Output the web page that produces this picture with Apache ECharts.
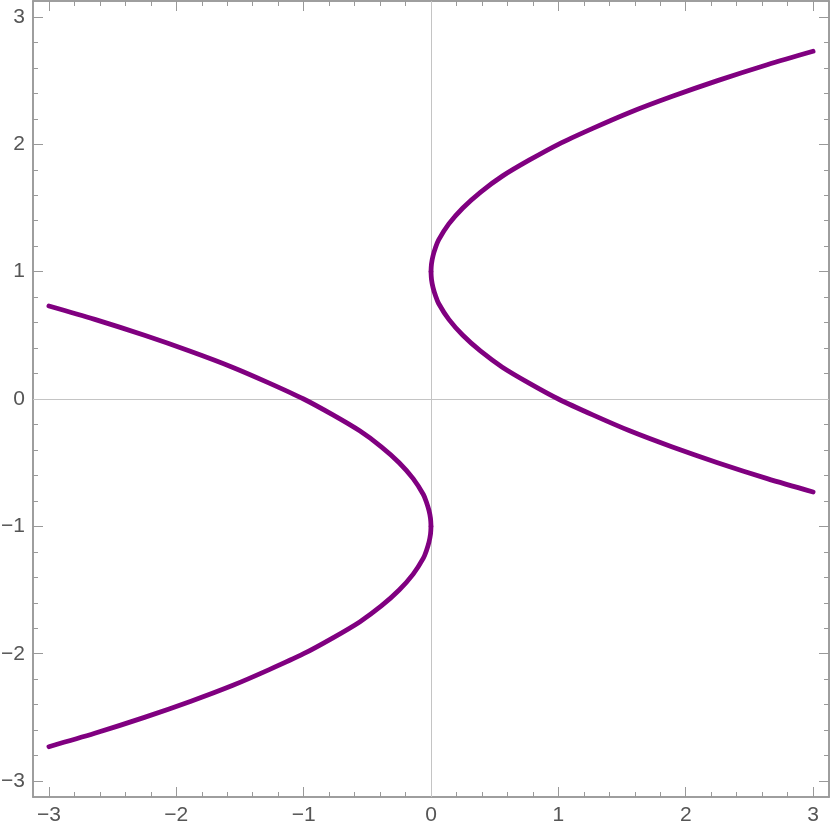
<!DOCTYPE html>
<html>
<head>
<meta charset="utf-8">
<script src="https://cdn.jsdelivr.net/npm/echarts@6/dist/echarts.min.js"></script>
<style>
  html, body { margin: 0; padding: 0; background: #fff; }
  #chart { width: 830px; height: 830px; }
</style>
</head>
<body>
<div id="chart"></div>
<script>
// values, each branch split at its vertex
const rightLowY = [-0.73, -0.625, -0.5, -0.375, -0.25, -0.125, 0, 0.125, 0.25, 0.375, 0.5, 0.625, 0.75, 0.8125, 0.875, 0.9375, 1];
const rightLowX = [3, 2.64, 2.25, 1.89, 1.56, 1.27, 1, 0.77, 0.56, 0.39, 0.25, 0.14, 0.06, 0.035, 0.016, 0.004, 0];
const rightHighY = [1, 1.0625, 1.125, 1.1875, 1.25, 1.375, 1.5, 1.625, 1.75, 1.875, 2, 2.125, 2.25, 2.375, 2.5, 2.625, 2.73];
const rightHighX = [0, 0.004, 0.016, 0.035, 0.06, 0.14, 0.25, 0.39, 0.56, 0.77, 1, 1.27, 1.56, 1.89, 2.25, 2.64, 3];
const leftLowY = [-2.73, -2.625, -2.5, -2.375, -2.25, -2.125, -2, -1.875, -1.75, -1.625, -1.5, -1.375, -1.25, -1.1875, -1.125, -1.0625, -1];
const leftLowX = [-3, -2.64, -2.25, -1.89, -1.56, -1.27, -1, -0.77, -0.56, -0.39, -0.25, -0.14, -0.06, -0.035, -0.016, -0.004, 0];
const leftHighY = [-1, -0.9375, -0.875, -0.8125, -0.75, -0.625, -0.5, -0.375, -0.25, -0.125, 0, 0.125, 0.25, 0.375, 0.5, 0.625, 0.73];
const leftHighX = [0, -0.004, -0.016, -0.035, -0.06, -0.14, -0.25, -0.39, -0.56, -0.77, -1, -1.27, -1.56, -1.89, -2.25, -2.64, -3];

const majorTicks = [-3, -2, -1, 0, 1, 2, 3];
const minorTicks = [];
for (let i = -15; i <= 15; i++) if (i % 5 !== 0) minorTicks.push(i / 5);

const LIM = 3.125;
const frameColor = '#999';
const fmt = (v) => String(v).replace('-', '\u2212');

function makeAxis(position, major, withLabel) {
  return {
    type: 'value',
    position,
    min: -LIM,
    max: LIM,
    axisLine: { show: true, onZero: false, lineStyle: { color: frameColor, width: 1.5 } },
    axisTick: {
      show: true,
      inside: true,
      length: major ? 10 : 5,
      customValues: major ? majorTicks : minorTicks,
      lineStyle: { color: frameColor, width: 1 },
    },
    axisLabel: {
      show: withLabel,
      customValues: majorTicks,
      formatter: fmt,
      color: '#555',
      fontSize: 21,
      fontFamily: 'Liberation Sans',
      margin: 8,
    },
    splitLine: { show: false },
  };
}

const toPairs = (xs, ys) => xs.map((x, i) => [x, ys[i]]);

function curve(xs, ys) {
  return {
    type: 'line',
    data: toPairs(xs, ys),
    smooth: 0.3,
    showSymbol: false,
    lineStyle: { color: '#800080', width: 4.8, join: 'round', cap: 'round' },
    z: 5,
  };
}

const chart = echarts.init(document.getElementById('chart'));
chart.setOption({
  animation: false,
  grid: { left: 33, right: 1, top: 1, bottom: 33, outerBoundsMode: 'none' },
  xAxis: [
    makeAxis('bottom', true, true),
    makeAxis('bottom', false, false),
    makeAxis('top', true, false),
    makeAxis('top', false, false),
  ],
  yAxis: [
    makeAxis('left', true, true),
    makeAxis('left', false, false),
    makeAxis('right', true, false),
    makeAxis('right', false, false),
  ],
  series: [
    {
      // zero axes, drawn under the curves
      type: 'line',
      data: [],
      z: 1,
      markLine: {
        silent: true,
        symbol: 'none',
        label: { show: false },
        lineStyle: { color: '#c4c4c4', width: 1, type: 'solid' },
        data: [{ xAxis: 0 }, { yAxis: 0 }],
        z: 1,
      },
    },
    curve(rightLowX, rightLowY),
    curve(rightHighX, rightHighY),
    curve(leftLowX, leftLowY),
    curve(leftHighX, leftHighY),
  ],
});
</script>
</body>
</html>
